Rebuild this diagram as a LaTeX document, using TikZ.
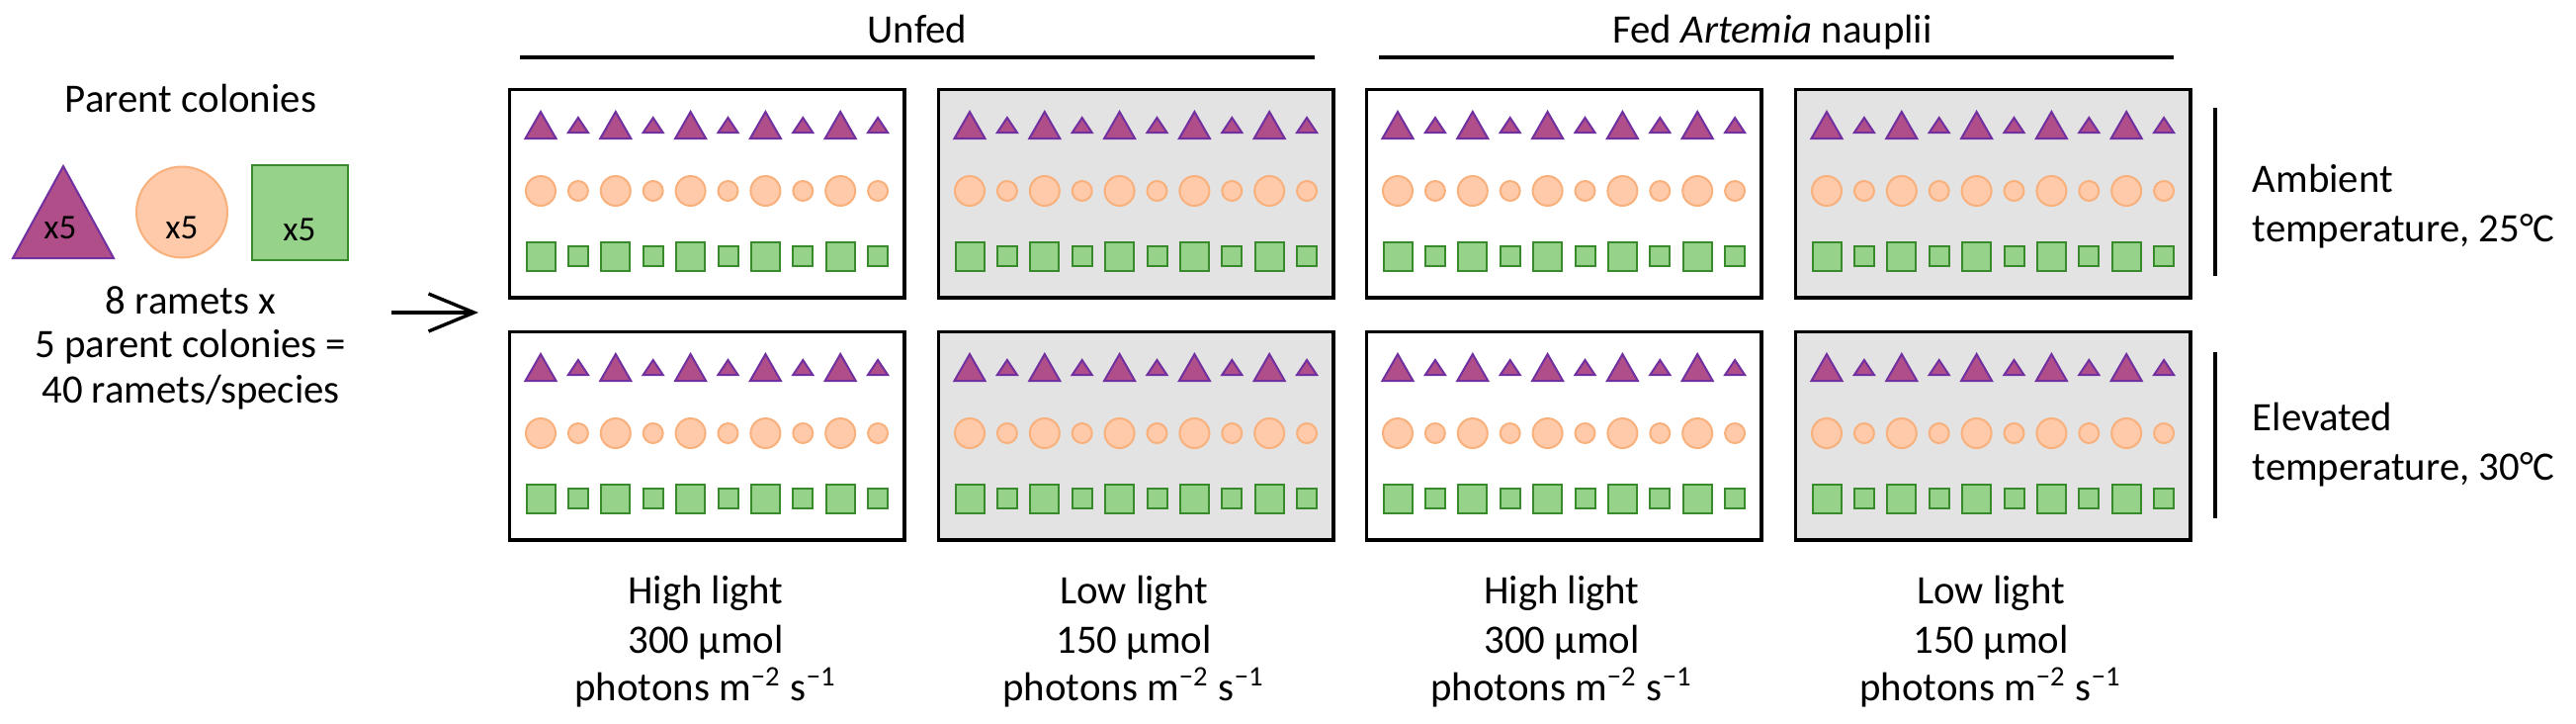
\documentclass[tikz,border=0pt]{standalone}
\usepackage{fontspec}
\setmainfont{Carlito}
\usetikzlibrary{arrows.meta}
\definecolor{trifill}{RGB}{176,78,138}
\definecolor{tridraw}{RGB}{112,48,160}
\definecolor{circfill}{RGB}{255,202,169}
\definecolor{circdraw}{RGB}{248,176,124}
\definecolor{sqfill}{RGB}{151,210,139}
\definecolor{sqdraw}{RGB}{56,138,44}
\definecolor{boxgrey}{RGB}{227,227,227}
\newcommand\tankshapes[2]{%
  \foreach \i in {0,...,9}{%
    \pgfmathsetmacro\cx{#1+35+37.9*\i}%
    \pgfmathtruncatemacro\oddi{mod(\i,2)}%
    \ifnum\oddi=0
      \def\myTW{15.5}\def\myTH{13.5}\def\myR{15}\def\myS{14.5}%
    \else
      \def\myTW{10}\def\myTH{7.5}\def\myR{10}\def\myS{10}%
    \fi
    \filldraw[tri] (\cx-\myTW,#2+39.5+\myTH) -- (\cx,#2+39.5-\myTH) -- (\cx+\myTW,#2+39.5+\myTH) -- cycle;
    \filldraw[circ] (\cx,#2+106) circle[radius=\myR];
    \filldraw[sqr] (\cx-\myS,#2+172-\myS) rectangle (\cx+\myS,#2+172+\myS);
  }%
}
\begin{document}
\begin{tikzpicture}[x=0.25pt,y=-0.25pt,
  lbl/.style={inner sep=0pt, anchor=base, font=\fontsize{10.2pt}{12.2pt}\selectfont},
  lblw/.style={lbl, anchor=base west},
  xfive/.style={inner sep=0pt, anchor=base, font=\fontsize{8.8pt}{10pt}\selectfont},
  tank/.style={draw=black, line width=0.9pt, inner sep=0pt, minimum width=99.9pt, minimum height=52.6pt, anchor=north west},
  greytank/.style={tank, fill=boxgrey},
  tri/.style={fill=trifill, draw=tridraw, line width=0.5pt, line join=miter},
  circ/.style={fill=circfill, draw=circdraw, line width=0.5pt},
  sqr/.style={fill=sqfill, draw=sqdraw, line width=0.5pt},
  rule/.style={line width=0.9pt},
  bar/.style={line width=0.8pt},
  bigarrow/.style={line width=0.85pt, -{Straight Barb[length=11.5pt, width=9.5pt]}}
]
\useasboundingbox (0,0) rectangle (2606,731);

% left part
\node[lbl] (parent) at (193,113) {Parent colonies};
\filldraw[tri] (13,261) -- (64,168) -- (115,261) -- cycle;
\filldraw[circ] (184,214.5) circle[radius=46];
\filldraw[sqr] (255,167) rectangle (352,263);
\node[xfive] (x5a) at (61,241) {x5};
\node[xfive] (x5b) at (184,241) {x5};
\node[xfive] (x5c) at (303,243) {x5};
\node[lbl] (ram1) at (193,317) {8 ramets x};
\node[lbl] (ram2) at (193,361) {5 parent colonies =};
\node[lbl] (ram3) at (193,407) {40 ramets/species};

% arrow
\coordinate (arrS) at (396,316);
\coordinate (arrE) at (484,316);
\draw[bigarrow] (arrS) -- (arrE);

% top labels
\node[lbl] (unfed) at (928,43) {Unfed};
\node[lbl] (fed) at (1793,43) {Fed \textit{Artemia} nauplii};
\coordinate (u1a) at (526,58);
\coordinate (u1b) at (1330,58);
\coordinate (u2a) at (1395,58);
\coordinate (u2b) at (2199,58);
\draw[rule] (u1a) -- (u1b);
\draw[rule] (u2a) -- (u2b);

% tanks
\node[tank] (t11) at (513.8,88.8) {};
\node[greytank] (t12) at (947.8,88.8) {};
\node[tank] (t13) at (1380.8,88.8) {};
\node[greytank] (t14) at (1814.8,88.8) {};
\node[tank] (t21) at (513.8,333.8) {};
\node[greytank] (t22) at (947.8,333.8) {};
\node[tank] (t23) at (1380.8,333.8) {};
\node[greytank] (t24) at (1814.8,333.8) {};
\tankshapes{512}{87}
\tankshapes{946}{87}
\tankshapes{1379}{87}
\tankshapes{1813}{87}
\tankshapes{512}{332}
\tankshapes{946}{332}
\tankshapes{1379}{332}
\tankshapes{1813}{332}

% right labels
\coordinate (b1a) at (2241,109);
\coordinate (b1b) at (2241,279);
\coordinate (b2a) at (2241,356);
\coordinate (b2b) at (2241,524);
\draw[bar] (b1a) -- (b1b);
\draw[bar] (b2a) -- (b2b);
\node[lblw] (amb1) at (2278,194) {Ambient};
\node[lblw] (amb2) at (2278,244) {temperature, 25°C};
\node[lblw] (ele1) at (2278,435) {Elevated};
\node[lblw] (ele2) at (2278,485) {temperature, 30°C};

% bottom labels
\node[lbl] (hl1a) at (714,610) {High light};
\node[lbl] (hl1b) at (714,660) {300 µmol};
\node[lbl] (hl1c) at (714,708) {photons m\textsuperscript{−2} s\textsuperscript{−1}};
\node[lbl] (ll1a) at (1147,610) {Low light};
\node[lbl] (ll1b) at (1147,660) {150 µmol};
\node[lbl] (ll1c) at (1147,708) {photons m\textsuperscript{−2} s\textsuperscript{−1}};
\node[lbl] (hl2a) at (1580,610) {High light};
\node[lbl] (hl2b) at (1580,660) {300 µmol};
\node[lbl] (hl2c) at (1580,708) {photons m\textsuperscript{−2} s\textsuperscript{−1}};
\node[lbl] (ll2a) at (2014,610) {Low light};
\node[lbl] (ll2b) at (2014,660) {150 µmol};
\node[lbl] (ll2c) at (2014,708) {photons m\textsuperscript{−2} s\textsuperscript{−1}};
\end{tikzpicture}
\end{document}
